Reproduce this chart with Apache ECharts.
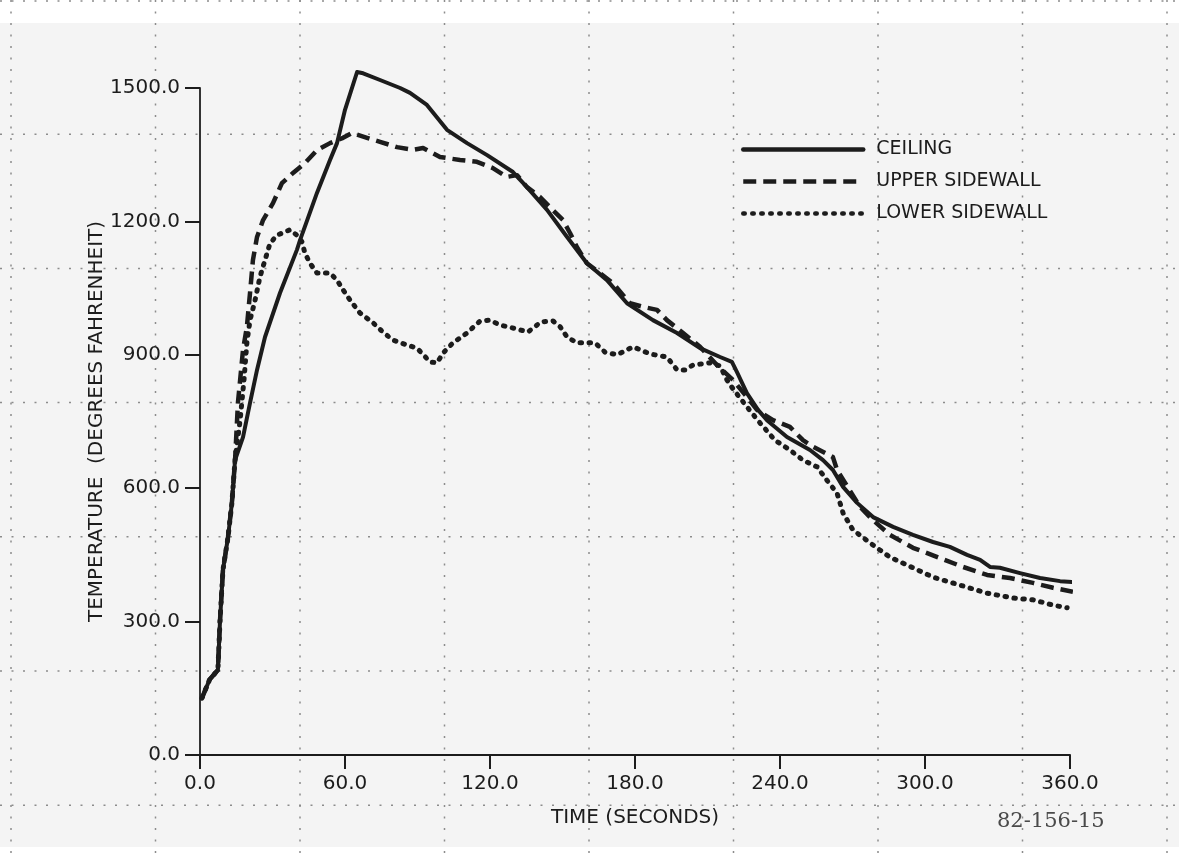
<!DOCTYPE html>
<html><head><meta charset="utf-8">
<script src="https://cdn.jsdelivr.net/npm/echarts@6/dist/echarts.min.js"></script>
<style>html,body{margin:0;padding:0;background:#fff}#c{width:1179px;height:856px}</style>
</head><body><div id="c"></div>
<script>
// ---- data (time in seconds, temperature in °F) ----
const seriesNames = ['CEILING', 'UPPER SIDEWALL', 'LOWER SIDEWALL'];
const xTickLabels = ['0.0', '60.0', '120.0', '180.0', '240.0', '300.0', '360.0'];
const yTickLabels = ['0.0', '300.0', '600.0', '900.0', '1200.0', '1500.0'];

const ceiling = [[0.8,128],[4,170],[7.4,191],[8.3,304],[9.5,416],[11.6,490],[13.2,567],[14.5,663],[17.8,715],[20.7,792],[23.6,866],[26.9,940],[33.1,1039],[40.1,1136],[41.4,1158],[48.4,1264],[53.8,1338],[56.7,1376],[60,1451],[65,1536],[67.5,1533],[74.5,1518],[82.8,1500],[86.9,1489],[93.9,1462],[102.2,1406],[110.5,1376],[118.8,1349],[129.5,1311],[135.3,1277],[143.6,1226],[151.9,1165],[160.1,1106],[168.4,1068],[176.7,1016],[187.4,978],[197.4,949],[206.9,915],[215.2,895],[220.1,884],[222.2,861],[226.3,814],[230.9,776],[234.6,753],[242.9,715],[252.4,686],[257.8,663],[261.9,641],[266.1,603],[271.9,567],[278.5,535],[286.8,513],[295,495],[303.3,479],[310.3,468],[317.4,450],[322.8,439],[326.9,423],[331,421],[339.3,409],[347.6,398],[355.9,391],[365,387]];

const upperSidewall = [[0.8,128],[4,170],[7.4,191],[8.3,304],[9.5,416],[11.6,490],[13.2,567],[14.5,663],[15.7,792],[16.6,843],[17.8,911],[19.4,963],[20.7,1039],[21.9,1113],[23.6,1165],[26.1,1203],[30.2,1241],[33.9,1286],[38.5,1309],[43.4,1331],[48.4,1360],[53.8,1376],[59.2,1388],[62.9,1399],[69.1,1388],[74.5,1379],[81.5,1367],[88.1,1361],[92.3,1365],[99.3,1345],[107.6,1338],[114.6,1334],[121.2,1320],[127,1300],[131.2,1304],[135.3,1277],[140.7,1255],[144.8,1232],[150.2,1203],[153.1,1174],[156,1142],[160.1,1106],[170.9,1061],[177.9,1016],[183.3,1008],[189.1,1001],[193.2,978],[199.9,949],[206.9,918],[213.9,877],[220.6,843],[226.3,805],[230.5,776],[237.1,753],[244.1,738],[249.5,708],[253.7,693],[261.9,670],[263.6,641],[273.1,558],[278.5,528],[285.5,495],[295,466],[306.2,443],[315.7,423],[325.7,405],[335.2,398],[344.7,387],[353,376],[361.2,367]];

const lowerSidewall = [[0.8,128],[4,170],[7.4,191],[8.3,304],[9.5,416],[11.6,490],[13.2,567],[14.5,663],[16.6,753],[18.2,843],[19.4,927],[20.7,978],[22.8,1023],[24.8,1075],[26.9,1113],[29,1151],[31.9,1169],[37.2,1181],[40.1,1169],[42.2,1154],[43.4,1129],[45.5,1106],[48.4,1084],[53.8,1084],[56.7,1068],[59.2,1046],[62.1,1023],[66.2,994],[71.6,972],[75.7,951],[79.9,933],[85.7,922],[89.8,915],[95.2,884],[98.1,882],[100.6,904],[104.7,927],[110.5,949],[115.9,976],[120,978],[124.1,967],[131.2,958],[135.7,951],[141.1,974],[146.1,976],[149,963],[151.9,940],[156,927],[163.4,927],[167.6,906],[172.6,900],[179.2,918],[186.2,902],[193.2,895],[197.4,866],[200.7,866],[204,877],[211,882],[215.2,875],[218.1,843],[220.6,823],[226.3,783],[231.7,747],[237.9,708],[244.1,686],[249.5,663],[255.3,648],[259.4,618],[263.6,589],[266.1,544],[270.2,506],[278.5,472],[285.5,445],[295,421],[303.3,400],[314.5,382],[325.7,364],[336.4,353],[344.7,349],[353,337],[358.8,331]];

// ---- chart ----
const W = 1179, H = 856;
const ink = '#1c1c1c';
const font = 'DejaVu Sans';

// scanned-page background and dotted overlay grid
const graphics = [{
  type: 'rect', z: -20, silent: true,
  shape: { x: 0, y: 23, width: W, height: 824 },
  style: { fill: '#f4f4f4' }
}];
for (let k = 0; k <= 8; k++) {
  const x = 11 + 144.5 * k;
  graphics.push({ type: 'line', z: -10, silent: true,
    shape: { x1: x, y1: 0, x2: x, y2: H },
    style: { stroke: '#8c8c8c', lineWidth: 1.5, lineDash: [2, 9.5] } });
}
for (let k = 0; k <= 6; k++) {
  const y = Math.max(1, 134.2 * k);
  graphics.push({ type: 'line', z: -10, silent: true,
    shape: { x1: 0, y1: y, x2: W, y2: y },
    style: { stroke: '#8c8c8c', lineWidth: 1.5, lineDash: [2, 9.5] } });
}
graphics.push({
  type: 'text', z: 10, silent: true, left: 997, top: 811,
  style: { text: '82-156-15', font: '21px "DejaVu Serif"', fill: '#4a4a4a' }
});

const chart = echarts.init(document.getElementById('c'), null, { renderer: 'canvas' });
chart.setOption({
  backgroundColor: '#ffffff',
  animation: false,
  graphic: graphics,
  grid: { left: 200, right: 109, top: 88, bottom: 101, containLabel: false },
  legend: {
    orient: 'vertical', left: 736, top: 135,
    itemWidth: 120, itemHeight: 14, itemGap: 13,
    itemStyle: { opacity: 0 },
    lineStyle: { width: 4.5 },
    textStyle: { fontFamily: font, fontSize: 19, color: ink, padding: [0, 0, 0, 8] },
    data: seriesNames
  },
  xAxis: {
    type: 'value', min: 0, max: 360, interval: 60,
    axisLine: { show: true, lineStyle: { color: ink, width: 2 } },
    axisTick: { show: true, length: 14, lineStyle: { color: ink, width: 2 } },
    splitLine: { show: false },
    axisLabel: { margin: 19, fontFamily: font, fontSize: 20, color: ink,
      formatter: v => xTickLabels[Math.round(v / 60)] },
    name: 'TIME (SECONDS)', nameLocation: 'middle', nameGap: 53,
    nameTextStyle: { fontFamily: font, fontSize: 20, color: ink }
  },
  yAxis: {
    type: 'value', min: 0, max: 1500, interval: 300,
    axisLine: { show: true, lineStyle: { color: '#333', width: 2 } },
    axisTick: { show: true, length: 15, lineStyle: { color: ink, width: 2 } },
    splitLine: { show: false },
    axisLabel: { margin: 20, fontFamily: font, fontSize: 20, color: ink,
      formatter: v => yTickLabels[Math.round(v / 300)] },
    name: 'TEMPERATURE  (DEGREES FAHRENHEIT)', nameLocation: 'middle', nameGap: 93,
    nameMoveOverlap: false,
    nameTextStyle: { fontFamily: font, fontSize: 20, color: ink }
  },
  series: [
    { name: seriesNames[0], type: 'line', data: ceiling, symbol: 'none', clip: false,
      lineStyle: { color: ink, width: 4, type: 'solid', join: 'round', cap: 'round' }, itemStyle: { color: ink } },
    { name: seriesNames[1], type: 'line', data: upperSidewall, symbol: 'none', clip: false,
      lineStyle: { color: ink, width: 4.5, type: [13, 7], join: 'round' }, itemStyle: { color: ink } },
    { name: seriesNames[2], type: 'line', data: lowerSidewall, symbol: 'none', clip: false,
      lineStyle: { color: ink, width: 5, type: [1.5, 7.5], cap: 'round', join: 'round' }, itemStyle: { color: ink } }
  ]
});
</script></body></html>
